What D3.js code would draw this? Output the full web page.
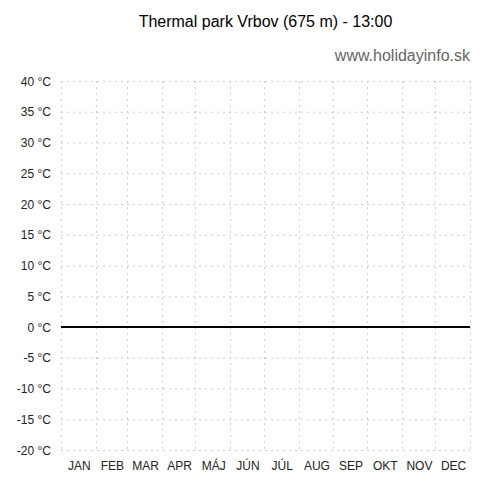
<!DOCTYPE html>
<html><head><meta charset="utf-8">
<script src="https://cdn.jsdelivr.net/npm/d3@7"></script>
<style>body{margin:0;background:#fff}svg{display:block;font-family:"Liberation Sans",Arial,sans-serif}</style>
</head><body><svg id="c" width="500" height="500"></svg>
<script>
const months = ["JAN","FEB","MAR","APR","MÁJ","JÚN","JÚL","AUG","SEP","OKT","NOV","DEC"];
const monthDays = [31,28,31,30,31,30,31,31,30,31,30,31];
const yTicks = [-20,-15,-10,-5,0,5,10,15,20,25,30,35,40];
// temperature points at month boundaries (day of year)
const pointDays = [0,31,59,90,120,151,181,212,243,273,304,334,365];
const temps = [0,0,0,0,0,0,0,0,0,0,0,0,0];
const title = "Thermal park Vrbov (675 m) - 13:00";
const subtitle = "www.holidayinfo.sk";

const svg = d3.select("#c");
const L = 61, R = 470, T = 81, B = 450;
const x = d3.scaleLinear().domain([0,365]).range([L,R]);
const y = d3.scaleLinear().domain([-20,40]).range([B,T]);

const bounds = [0];
monthDays.forEach((d,i)=>bounds.push(bounds[i]+d));

// horizontal grid
svg.append("g").selectAll("line").data(yTicks).join("line")
  .attr("x1",L).attr("x2",R).attr("y1",d=>y(d)+0.5).attr("y2",d=>y(d)+0.5)
  .attr("stroke","#ccc").attr("stroke-width",1).attr("stroke-dasharray","2,4");
// vertical grid
svg.append("g").selectAll("line").data(bounds).join("line")
  .attr("x1",d=>Math.round(x(d))+0.5).attr("x2",d=>Math.round(x(d))+0.5).attr("y1",T).attr("y2",B)
  .attr("stroke","#ccc").attr("stroke-width",1).attr("stroke-dasharray","2,4");

// y labels
svg.append("g").selectAll("text").data(yTicks).join("text")
  .attr("x",L-10).attr("y",d=>y(d)+4.5).attr("text-anchor","end")
  .attr("font-size",12).attr("fill","#222").text(d=>d+" °C");

// x labels
svg.append("g").selectAll("text").data(months).join("text")
  .attr("x",(d,i)=>x((bounds[i]+bounds[i+1])/2)+1).attr("y",470).attr("text-anchor","middle")
  .attr("font-size",12).attr("fill","#222").text(d=>d);

// line
const line = d3.line().x((d,i)=>x(pointDays[i])).y(d=>y(d));
svg.append("path").datum(temps).attr("d",line).attr("fill","none")
  .attr("stroke","#000").attr("stroke-width",2);

svg.append("text").attr("x",(L+R)/2).attr("y",27).attr("text-anchor","middle")
  .attr("font-size",16).attr("fill","#000").text(title);
svg.append("text").attr("x",R).attr("y",61).attr("text-anchor","end")
  .attr("font-size",16).attr("fill","#666").text(subtitle);
</script></body></html>
